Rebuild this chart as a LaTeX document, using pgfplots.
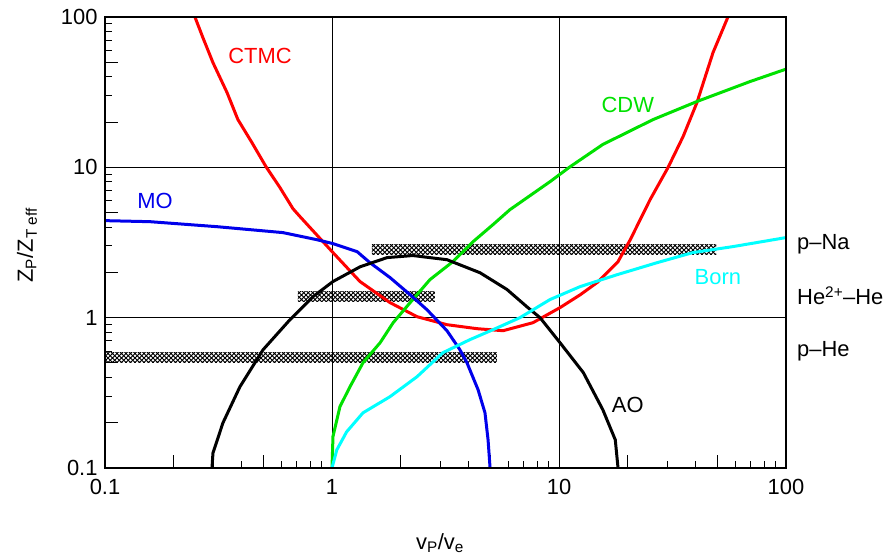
\documentclass[border=0pt]{standalone}
\usepackage{fontspec}
\setmainfont{Liberation Sans}
\usepackage{pgfplots}
\pgfplotsset{compat=1.18}
\usetikzlibrary{patterns}

\definecolor{ctmcred}{RGB}{255,0,0}
\definecolor{cdwgreen}{RGB}{0,225,0}
\definecolor{moblue}{RGB}{0,0,235}
\definecolor{borncyan}{RGB}{0,255,255}

% diagonal cross-hatching for the experimental ranges
\pgfdeclarepatternformonly{xhatch}{\pgfpoint{-1bp}{-1bp}}{\pgfpoint{5.5bp}{5.5bp}}{\pgfpoint{4.5bp}{4.5bp}}{%
  \pgfsetlinewidth{0.75bp}%
  \pgfpathmoveto{\pgfpoint{-0.5bp}{-0.5bp}}\pgfpathlineto{\pgfpoint{5bp}{5bp}}%
  \pgfpathmoveto{\pgfpoint{-0.5bp}{5bp}}\pgfpathlineto{\pgfpoint{5bp}{-0.5bp}}%
  \pgfusepath{stroke}}

\begin{document}
\begin{tikzpicture}
\begin{axis}[
  at={(0,0)}, anchor=south west,
  scale only axis, width=681bp, height=451bp,
  xmode=log, ymode=log,
  xmin=0.1, xmax=100, ymin=0.1, ymax=100,
  xtick={0.1,1,10,100}, xticklabels={0.1,1,10,100},
  ytick={0.1,1,10,100}, yticklabels={0.1,1,10,100},
  minor xtick={0.2,0.3,0.4,0.5,0.6,0.7,0.8,0.9,2,3,4,5,6,7,8,9,20,30,40,50,60,70,80,90},
  minor ytick={0.2,0.3,0.4,0.5,0.6,0.7,0.8,0.9,2,3,4,5,6,7,8,9,20,30,40,50,60,70,80,90},
  extra x ticks={0.2,0.5,2,5,20,50}, extra x tick labels={},
  extra y ticks={0.2,0.5,2,5,20,50}, extra y tick labels={},
  extra tick style={grid=none, major tick length=13bp},
  tick pos=left,
  major tick length=13bp, minor tick length=7bp,
  tick style={black, line width=1bp},
  grid=major, major grid style={black, line width=0.9bp},
  axis line style={line width=2.4bp},
  font=\fontsize{22}{26}\selectfont,
  /pgf/number format/assume math mode=true,
  xticklabel style={yshift=-8bp},
  yticklabel style={xshift=-4bp},
  xlabel={v\textsubscript{P}/v\textsubscript{e}},
  ylabel={Z\textsubscript{P}/Z\textsubscript{T eff}},
  xlabel style={at={(axis description cs:0.492,0)}, anchor=center, yshift=-75bp},
  ylabel style={at={(axis description cs:-0.1145,0.494)}, anchor=center},
  clip mode=individual,
]

% experimental ranges
\addplot[draw=none, pattern=xhatch] coordinates {(1.50,2.62) (49.2,2.62) (49.2,3.06) (1.50,3.06)} --cycle;
\addplot[draw=none, pattern=xhatch] coordinates {(0.708,1.28) (2.84,1.28) (2.84,1.49) (0.708,1.49)} --cycle;
\addplot[draw=none, pattern=xhatch] coordinates {(0.1,0.502) (5.33,0.502) (5.33,0.585) (0.1,0.585)} --cycle;

% CTMC
\addplot[ctmcred, line width=3bp] coordinates {
(0.240,110) (0.249,100) (0.270,72.9) (0.299,49.7) (0.345,31.4) (0.385,20.8)
(0.444,14.6) (0.512,10.1) (0.590,7.33) (0.673,5.31) (0.723,4.70)
(1.01,2.71) (1.328,1.74) (1.80,1.26) (2.37,1.015) (3.21,0.898)
(4.35,0.845) (5.67,0.819) (7.68,0.926) (10.1,1.166) (12.4,1.42)
(14.7,1.71) (18.2,2.36) (20.6,3.30) (25.2,6.10) (30.2,9.95)
(35.2,16.0) (40.5,26.9) (47.7,58.0) (55.5,100) (57,110)};

% CDW
\addplot[cdwgreen, line width=3bp] coordinates {
(1.0,0.1) (1.01,0.162) (1.084,0.256) (1.20,0.347) (1.37,0.502)
(1.63,0.682) (1.86,0.926) (2.21,1.26) (2.70,1.79) (3.41,2.36)
(4.18,3.20) (5.12,4.16) (6.08,5.23) (9.13,8.03) (11.2,10.1)
(15.6,14.2) (26.0,20.8) (40.5,27.4) (69.4,37.2) (100,45.0)};

% MO
\addplot[moblue, line width=3bp] coordinates {
(0.1,4.42) (0.158,4.35) (0.311,4.03) (0.608,3.68) (0.859,3.30)
(1.01,3.11) (1.29,2.75) (1.47,2.32) (1.80,1.85) (2.21,1.42)
(2.62,1.13) (3.21,0.819) (3.66,0.612) (3.93,0.502) (4.40,0.332)
(4.72,0.233) (4.87,0.154) (4.97,0.1)};

% AO
\addplot[black, line width=3bp] coordinates {
(0.296,0.1) (0.299,0.126) (0.331,0.200) (0.393,0.347) (0.497,0.612)
(0.653,0.970) (0.825,1.38) (1.01,1.74) (1.33,2.18) (1.75,2.51)
(2.27,2.59) (3.21,2.43) (4.49,1.99) (5.90,1.54) (7.23,1.18)
(8.25,1.0) (10.1,0.682) (12.8,0.431) (15.6,0.244) (17.7,0.154) (18.2,0.1)};

% Born
\addplot[borncyan, line width=3bp] coordinates {
(1.0,0.1) (1.05,0.132) (1.16,0.174) (1.37,0.233) (1.80,0.298)
(2.37,0.405) (3.08,0.585) (4.05,0.714) (5.12,0.832) (6.73,1.0)
(9.13,1.32) (12.4,1.61) (18.0,1.93) (27.0,2.32) (38.9,2.71)
(58.4,2.97) (100,3.41)};

% curve labels
\node[ctmcred] at (axis cs:0.482,55.3) {CTMC};
\node[moblue] at (axis cs:0.166,6.0) {MO};
\node[cdwgreen] at (axis cs:20.1,26.1) {CDW};
\node[borncyan] at (axis cs:50.1,1.87) {Born};
\node[black] at (axis cs:20.1,0.264) {AO};

% collision systems
\node[anchor=west, inner sep=0pt, xshift=11bp] at (axis cs:100,3.1) {p–Na};
\node[anchor=west, inner sep=0pt, xshift=11bp] at (axis cs:100,1.40) {He\textsuperscript{2+}–He};
\node[anchor=west, inner sep=0pt, xshift=11bp] at (axis cs:100,0.594) {p–He};

% heavy frame
\draw[black, line width=2.4bp] (rel axis cs:0,0) rectangle (rel axis cs:1,1);
\end{axis}
\pgfresetboundingbox
\path (-105bp,-88bp) rectangle (781bp,468bp);
\end{tikzpicture}
\end{document}
